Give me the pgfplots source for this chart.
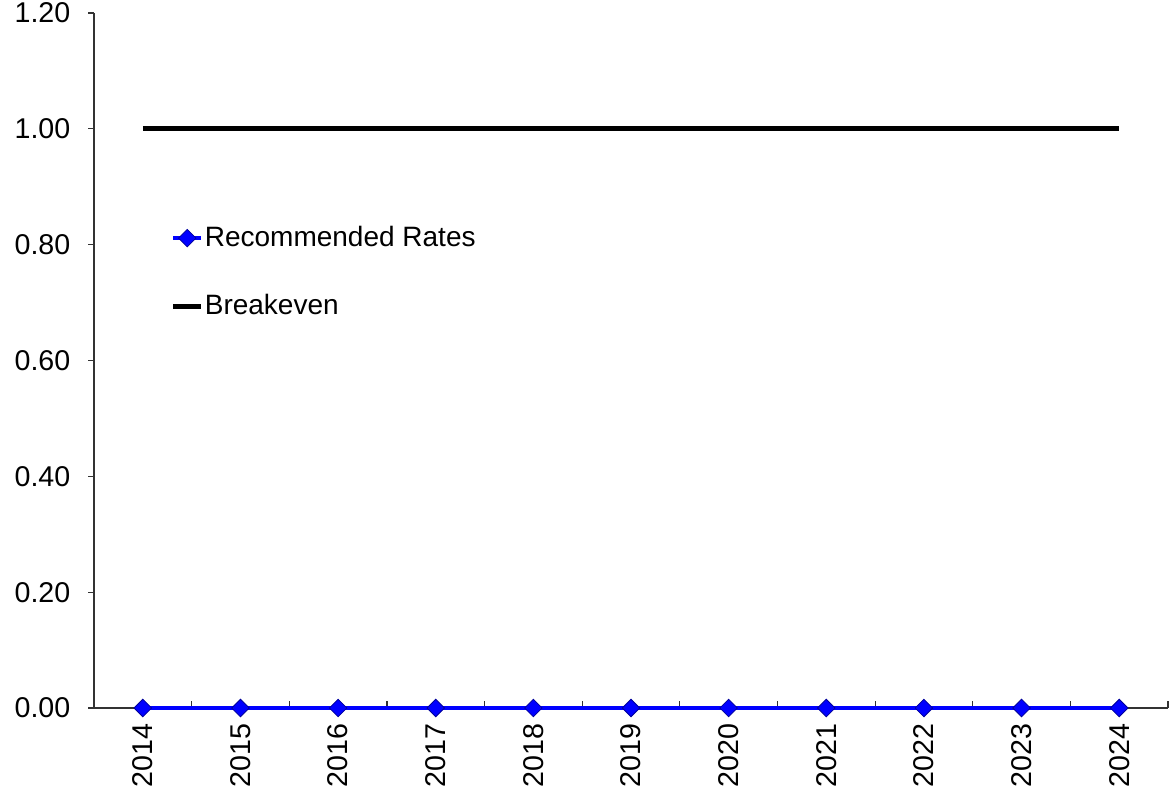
\documentclass[border=0pt]{standalone}
\usepackage{pgfplots}
\pgfplotsset{compat=1.18}
\usepackage{fontspec}
\setmainfont{Liberation Sans}
\begin{document}
\fontsize{14pt}{16pt}\selectfont
\begin{tikzpicture}
\useasboundingbox (0,0) rectangle (585pt,400pt);
\begin{axis}[
  at={(47pt,46pt)}, anchor=south west,
  scale only axis,
  width=537pt, height=347.5pt,
  xmin=-0.5, xmax=10.5,
  ymin=0, ymax=1.2,
  axis x line*=bottom, axis y line*=left,
  axis line style={black!80, line width=0.6pt},
  xtick={0,...,10},
  xticklabels={2014,2015,2016,2017,2018,2019,2020,2021,2022,2023,2024},
  xticklabel style={rotate=90, anchor=east, xshift=-3pt, font=\fontsize{14.3pt}{16pt}\selectfont},
  minor xtick={0.5,1.5,...,10.5},
  major x tick style={draw=none},
  minor x tick style={black!80, line width=0.6pt},
  minor tick length=3.5pt,
  ytick={0,0.2,...,1.21},
  y tick style={black!80, line width=0.6pt},
  major tick length=3pt,
  tick align=inside,
  ytick style={xshift=-3pt},
  yticklabel style={font=\fontsize{14.3pt}{16pt}\selectfont, xshift=-7pt},
  yticklabel={\pgfmathprintnumber[fixed,fixed zerofill,precision=2]{\tick}},
  /pgf/number format/assume math mode=true,
  legend style={at={(0.071,0.70)}, anchor=north west, draw=none, fill=none,
    inner sep=0pt, row sep=18pt, font=\fontsize{14pt}{16pt}\selectfont,
    legend cell align=left, nodes={inner xsep=0.5pt}},
  legend image code/.code={
    \draw[mark repeat=2, mark phase=2, #1] plot coordinates {(0pt,0pt) (7pt,0pt) (14pt,0pt)};
  },
  clip=false,
]
\addplot[blue, line width=1.8pt, mark=square*, mark size=3.1pt,
  mark options={rotate=45, fill=blue, draw=blue!60!black, line width=0.4pt}]
  coordinates {(0,0) (1,0) (2,0) (3,0) (4,0) (5,0) (6,0) (7,0) (8,0) (9,0) (10,0)};
\addlegendentry{Recommended Rates}
\addplot[black, line width=2.6pt]
  coordinates {(0,1) (1,1) (2,1) (3,1) (4,1) (5,1) (6,1) (7,1) (8,1) (9,1) (10,1)};
\addlegendentry{Breakeven}
\end{axis}
\end{tikzpicture}
\end{document}
